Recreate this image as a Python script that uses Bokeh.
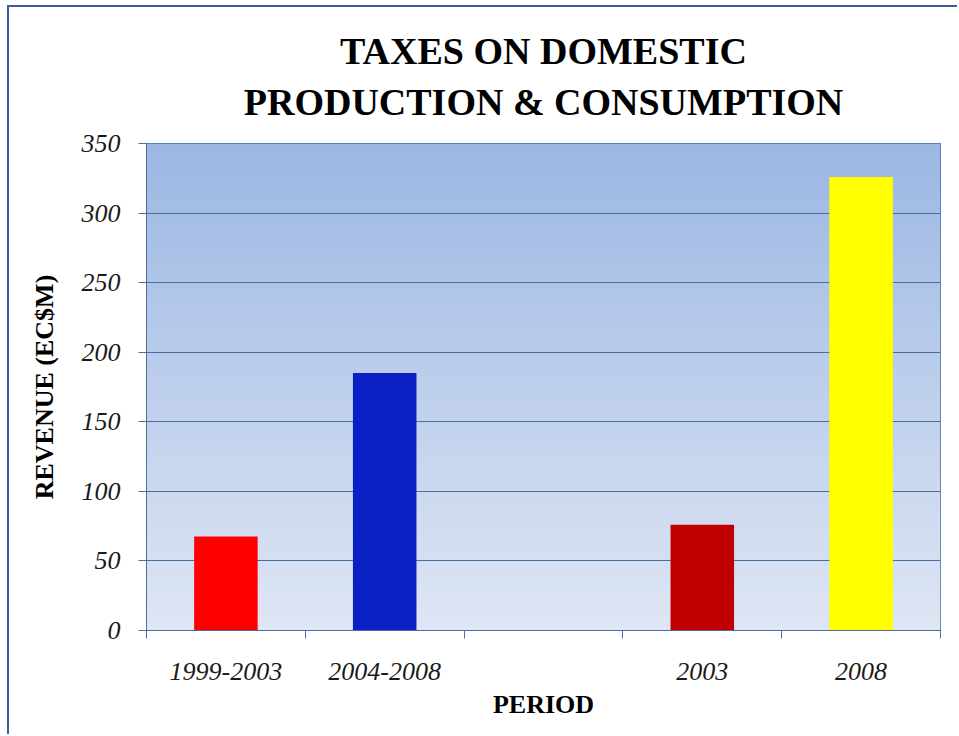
import numpy as np
from bokeh.plotting import figure
from bokeh.models import FixedTicker, Range1d, ColumnDataSource
from bokeh.embed import file_html
from bokeh.resources import INLINE

# ---- data ----
periods = ["1999-2003", "2004-2008", "", "2003", "2008"]
revenue = [67.5, 185, 0, 76, 326]
bar_colors = ["#FF0000", "#0A1FC4", "#FFFFFF", "#C00000", "#FFFF00"]
y_ticks = [0, 50, 100, 150, 200, 250, 300, 350]

title_lines = ["TAXES ON DOMESTIC", "PRODUCTION & CONSUMPTION"]
x_label = "PERIOD"
y_label = "REVENUE (EC$M)"

# ---- derived ----
n = len(periods)
centers = [i + 0.5 for i in range(n)]
keep = [i for i, p_ in enumerate(periods) if p_ != ""]
src = ColumnDataSource(dict(
    x=[centers[i] for i in keep],
    top=[revenue[i] for i in keep],
    color=[bar_colors[i] for i in keep],
))

AXIS_COL = "#4A6DA3"
SERIF = "Liberation Serif"

p = figure(
    frame_width=794, frame_height=487,
    x_range=Range1d(0, n), y_range=Range1d(y_ticks[0], y_ticks[-1]),
    output_backend="svg", toolbar_location=None,
    min_border_left=137, min_border_right=17,
    min_border_top=136, min_border_bottom=104,
)
p.styles = {"border-left": "2px solid #3C5E94", "border-top": "2px solid #3C5E94",
            "margin-left": "7px", "margin-top": "5px"}

# gradient background of plot area
rows = 256
top_c = np.array([155, 183, 227], dtype=float)
bot_c = np.array([223, 230, 244], dtype=float)
t = np.linspace(0, 1, rows)[:, None]
cols = bot_c * (1 - t) + top_c * t
img = np.empty((rows, 2), dtype=np.uint32)
view = img.view(dtype=np.uint8).reshape((rows, 2, 4))
view[:, :, 0] = cols[:, 0:1].round().astype(np.uint8)
view[:, :, 1] = cols[:, 1:2].round().astype(np.uint8)
view[:, :, 2] = cols[:, 2:3].round().astype(np.uint8)
view[:, :, 3] = 255
p.image_rgba(image=[img], x=0, y=y_ticks[0], dw=n, dh=y_ticks[-1] - y_ticks[0], level="image")

p.vbar(x="x", top="top", bottom=0, width=0.4, color="color", line_color=None, source=src)

# outline / grid
p.outline_line_color = AXIS_COL
p.outline_line_width = 1
p.xgrid.visible = False
p.ygrid.ticker = FixedTicker(ticks=y_ticks)
p.ygrid.grid_line_color = AXIS_COL
p.ygrid.grid_line_width = 1

# x axis
xa = p.xaxis[0]
xa.ticker = FixedTicker(ticks=centers, minor_ticks=list(range(n + 1)))
xa.major_label_overrides = {c: lab for c, lab in zip(centers, periods)}
xa.major_tick_out = 0
xa.major_tick_in = 0
xa.minor_tick_out = 8
xa.minor_tick_in = 0
xa.minor_tick_line_color = AXIS_COL
xa.axis_line_color = AXIS_COL
xa.major_label_standoff = 24
xa.major_label_text_font = SERIF
xa.major_label_text_font_style = "italic"
xa.major_label_text_font_size = "26px"
xa.major_label_text_color = "#1A1A1A"
xa.axis_label = x_label
xa.axis_label_text_font = SERIF
xa.axis_label_text_font_style = "bold"
xa.axis_label_text_font_size = "26px"
xa.axis_label_text_color = "#000000"
xa.axis_label_standoff = 7

# y axis
ya = p.yaxis[0]
ya.ticker = FixedTicker(ticks=y_ticks)
ya.major_tick_out = 8
ya.major_tick_in = 0
ya.minor_tick_line_color = None
ya.major_tick_line_color = AXIS_COL
ya.axis_line_color = AXIS_COL
ya.major_label_standoff = 18
ya.major_label_text_font = SERIF
ya.major_label_text_font_style = "italic"
ya.major_label_text_font_size = "26px"
ya.major_label_text_color = "#1A1A1A"
ya.axis_label = y_label
ya.axis_label_text_font = SERIF
ya.axis_label_text_font_style = "bold"
ya.axis_label_text_font_size = "26px"
ya.axis_label_text_color = "#000000"
ya.axis_label_standoff = 20

# two-line title
p.title.text = "\n".join(title_lines)
p.title.align = "center"
p.title.text_align = "center"
p.title.text_font = SERIF
p.title.text_font_style = "bold"
p.title.text_font_size = "38px"
p.title.text_line_height = 1.22
p.title.text_color = "#000000"
p.title.standoff = 40

open("out.html", "w").write(file_html(p, INLINE))
